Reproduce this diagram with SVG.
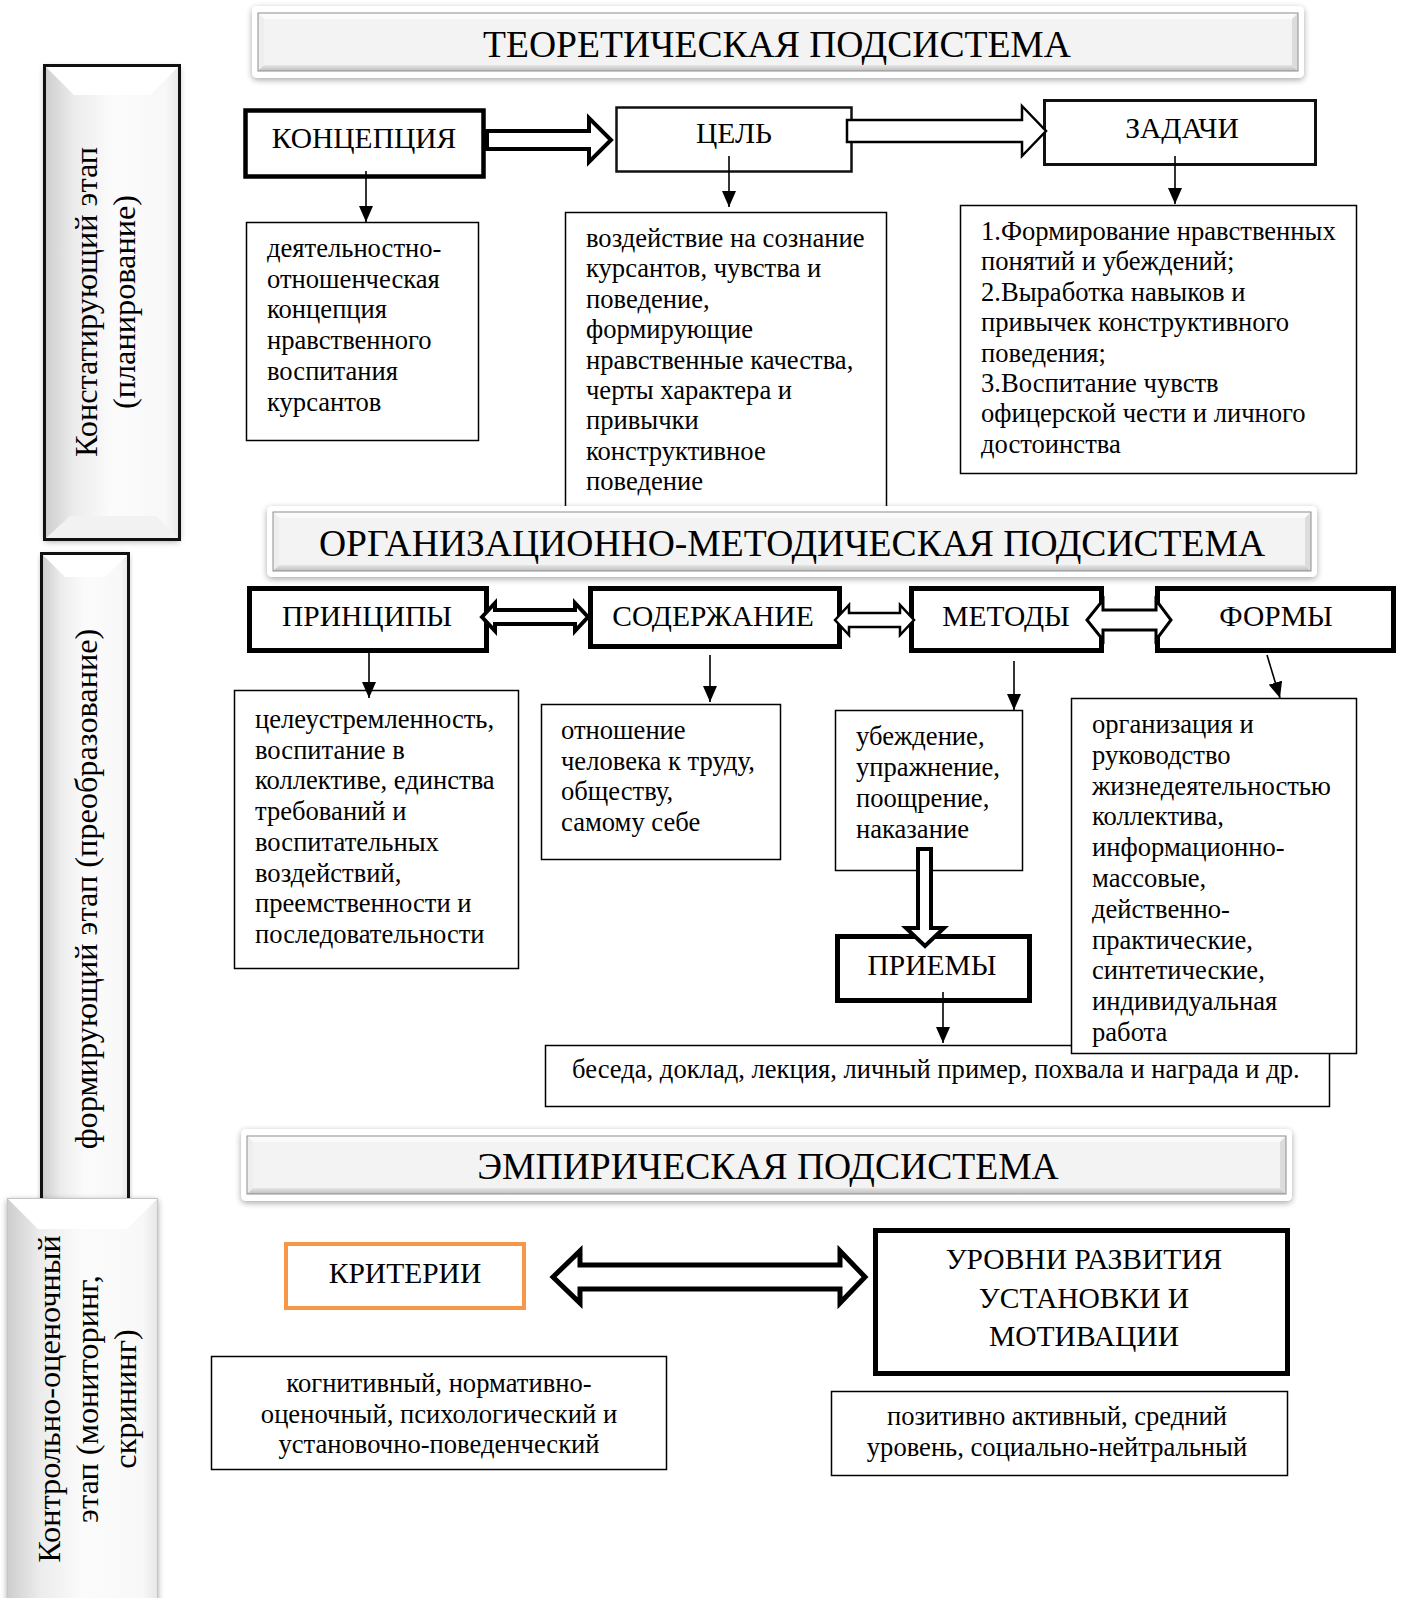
<svg xmlns="http://www.w3.org/2000/svg" width="1406" height="1598" viewBox="0 0 1406 1598">
<defs>
<style>
text{font-family:"Liberation Serif","Times New Roman",serif;fill:#000}
.t{font-size:26.6px}
.c{font-size:26.6px;text-anchor:middle}
.lbl{font-size:29.5px;text-anchor:middle}
.ttl{font-size:37.6px;text-anchor:middle}
.bt{font-size:32.3px;text-anchor:middle}
.desc{fill:#fff;stroke:#000;stroke-width:1.5}
.thk{fill:#fff;stroke:#000;stroke-width:5}
.ln{stroke:#000;stroke-width:1.6;fill:none;marker-end:url(#ah)}
.blk{fill:#fff;stroke:#000;stroke-linejoin:miter}
.o{fill:#fff}
.face{fill:#f3f3f3}
.edge{fill:none;stroke:#8e8e8e;stroke-width:1}
.bvt{fill:#fbfbfb}.bvl{fill:#eeeeee}.bvb{fill:url(#botg)}.bvr{fill:#dcdcdc}
.barr{fill:url(#barg)}
.bartop{fill:#ffffff}
.barbot{fill:#f2f2f2}
.bord{fill:none;stroke:#111;stroke-width:3}
</style>
<marker id="ah" markerUnits="userSpaceOnUse" markerWidth="16" markerHeight="14" viewBox="0 0 16 14" refX="16" refY="7" orient="auto"><path d="M0,0 L16,7 L0,14 Z" fill="#000"/></marker>
<filter id="sh" x="-5%" y="-30%" width="110%" height="160%"><feGaussianBlur in="SourceAlpha" stdDeviation="3"/><feOffset dy="2"/><feComponentTransfer><feFuncA type="linear" slope="0.35"/></feComponentTransfer><feMerge><feMergeNode/><feMergeNode in="SourceGraphic"/></feMerge></filter>
<linearGradient id="barg" x1="0" x2="1" y1="0" y2="0"><stop offset="0" stop-color="#cdcdcd"/><stop offset="0.22" stop-color="#ececec"/><stop offset="0.5" stop-color="#fbfbfb"/><stop offset="0.9" stop-color="#f8f8f8"/><stop offset="1" stop-color="#e6e6e6"/></linearGradient>
<linearGradient id="botg" x1="0" x2="0" y1="0" y2="1"><stop offset="0" stop-color="#e6e6e6"/><stop offset="1" stop-color="#bdbdbd"/></linearGradient>
</defs>
<rect width="1406" height="1598" fill="#fff"/>

<!-- stage bars -->
<g id="stage1">
<rect x="44.5" y="65.5" width="135" height="474" class="barr" filter="url(#sh)"/>
<polygon class="bartop" points="46,67 178,67 150,95 74,95"/>
<polygon class="barbot" points="46,538 70,516 156,516 178,538"/>
<rect x="44.5" y="65.5" width="135" height="474" class="bord"/>
<text class="bt" transform="translate(97,302) rotate(-90)">Констатирующий этап</text>
<text class="bt" transform="translate(135,302) rotate(-90)">(планирование)</text>
</g>
<g id="stage2">
<rect x="41.5" y="553.5" width="87" height="650" class="barr" filter="url(#sh)"/>
<polygon class="bartop" points="43,555 127,555 105,577 65,577"/>
<rect x="41.5" y="553.5" width="87" height="650" class="bord"/>
<text class="bt" transform="translate(97,889) rotate(-90)">формирующий этап (преобразование)</text>
</g>
<g id="stage3">
<rect x="7" y="1198" width="151" height="420" class="barr" filter="url(#sh)"/>
<polygon class="bartop" points="8,1199 157,1199 127,1229 38,1229"/>
<rect x="7.5" y="1198.5" width="150" height="420" fill="none" stroke="#c4c4c4" stroke-width="1"/>
<text class="bt" transform="translate(60,1399) rotate(-90)">Контрольно-оценочный</text>
<text class="bt" transform="translate(98,1399) rotate(-90)">этап (мониторинг,</text>
<text class="bt" transform="translate(136,1399) rotate(-90)">скрининг)</text>
</g>

<!-- theoretical subsystem -->
<g id="title-theory">
<rect x="252" y="6" width="1052" height="72" rx="5" class="o" filter="url(#sh)"/>
<rect x="258" y="13" width="1040" height="58" class="face"/>
<polygon class="bvt" points="258,13 1298,13 1292,19 264,19"/>
<polygon class="bvl" points="258,13 264,19 264,65 258,71"/>
<polygon class="bvb" points="258,71 264,65 1292,65 1298,71"/>
<polygon class="bvr" points="1298,13 1298,71 1292,65 1292,19"/>
<rect x="258" y="13" width="1040" height="58" class="edge"/>
<text class="ttl" x="777" y="57">ТЕОРЕТИЧЕСКАЯ ПОДСИСТЕМА</text>
</g>
<g id="concept">
<rect x="245.5" y="110.5" width="238" height="66" fill="#fff" stroke="#000" stroke-width="4.5"/>
<text class="lbl" x="364" y="148">КОНЦЕПЦИЯ</text>
</g>
<g id="goal">
<rect x="616.5" y="107.5" width="235" height="64" fill="#fff" stroke="#111" stroke-width="2.5"/>
<text class="lbl" x="734" y="143">ЦЕЛЬ</text>
</g>
<g id="tasks">
<rect x="1044.5" y="100.5" width="271" height="64" fill="#fff" stroke="#111" stroke-width="3"/>
<text class="lbl" x="1182" y="138">ЗАДАЧИ</text>
</g>
<g id="concept-desc">
<rect x="246.5" y="222.5" width="232" height="218" class="desc"/>
<text class="t" x="267" y="257"><tspan x="267" dy="0">деятельностно-</tspan><tspan x="267" dy="30.7">отношенческая</tspan><tspan x="267" dy="30.7">концепция</tspan><tspan x="267" dy="30.7">нравственного</tspan><tspan x="267" dy="30.7">воспитания</tspan><tspan x="267" dy="30.7">курсантов</tspan></text>
</g>
<g id="goal-desc">
<rect x="565.5" y="212.5" width="321" height="330" class="desc"/>
<text class="t" x="586" y="247"><tspan x="586" dy="0">воздействие на сознание</tspan><tspan x="586" dy="30.4">курсантов, чувства и</tspan><tspan x="586" dy="30.4">поведение,</tspan><tspan x="586" dy="30.4">формирующие</tspan><tspan x="586" dy="30.4">нравственные качества,</tspan><tspan x="586" dy="30.4">черты характера и</tspan><tspan x="586" dy="30.4">привычки</tspan><tspan x="586" dy="30.4">конструктивное</tspan><tspan x="586" dy="30.4">поведение</tspan></text>
</g>
<g id="tasks-desc">
<rect x="960.5" y="205.5" width="396" height="268" class="desc"/>
<text class="t" x="981" y="240"><tspan x="981" dy="0">1.Формирование нравственных</tspan><tspan x="981" dy="30.4">понятий и убеждений;</tspan><tspan x="981" dy="30.4">2.Выработка навыков и</tspan><tspan x="981" dy="30.4">привычек конструктивного</tspan><tspan x="981" dy="30.4">поведения;</tspan><tspan x="981" dy="30.4">3.Воспитание чувств</tspan><tspan x="981" dy="30.4">офицерской чести и личного</tspan><tspan x="981" dy="30.4">достоинства</tspan></text>
</g>

<!-- organizational-methodical subsystem -->
<g id="title-org">
<rect x="267" y="506" width="1050" height="71" rx="5" class="o" filter="url(#sh)"/>
<rect x="273" y="512" width="1038" height="59" class="face"/>
<polygon class="bvt" points="273,512 1311,512 1305,518 279,518"/>
<polygon class="bvl" points="273,512 279,518 279,565 273,571"/>
<polygon class="bvb" points="273,571 279,565 1305,565 1311,571"/>
<polygon class="bvr" points="1311,512 1311,571 1305,565 1305,518"/>
<rect x="273" y="512" width="1038" height="59" class="edge"/>
<text class="ttl" x="792" y="556">ОРГАНИЗАЦИОННО-МЕТОДИЧЕСКАЯ ПОДСИСТЕМА</text>
</g>
<g id="principles">
<rect x="249.5" y="588.5" width="237" height="62" class="thk"/>
<text class="lbl" x="367" y="626">ПРИНЦИПЫ</text>
</g>
<g id="content">
<rect x="590.5" y="588.5" width="249" height="58" class="thk"/>
<text class="lbl" x="713" y="626">СОДЕРЖАНИЕ</text>
</g>
<g id="methods">
<rect x="911.5" y="588.5" width="190" height="62" class="thk"/>
<text class="lbl" x="1006" y="626">МЕТОДЫ</text>
</g>
<g id="forms">
<rect x="1157.5" y="588.5" width="236" height="62" class="thk"/>
<text class="lbl" x="1276" y="626">ФОРМЫ</text>
</g>
<g id="principles-desc">
<rect x="234.5" y="690.5" width="284" height="278" class="desc"/>
<text class="t" x="255" y="728"><tspan x="255" dy="0">целеустремленность,</tspan><tspan x="255" dy="30.7">воспитание в</tspan><tspan x="255" dy="30.7">коллективе, единства</tspan><tspan x="255" dy="30.7">требований и</tspan><tspan x="255" dy="30.7">воспитательных</tspan><tspan x="255" dy="30.7">воздействий,</tspan><tspan x="255" dy="30.7">преемственности и</tspan><tspan x="255" dy="30.7">последовательности</tspan></text>
</g>
<g id="content-desc">
<rect x="541.5" y="704.5" width="239" height="155" class="desc"/>
<text class="t" x="561" y="739"><tspan x="561" dy="0">отношение</tspan><tspan x="561" dy="30.7">человека к труду,</tspan><tspan x="561" dy="30.7">обществу,</tspan><tspan x="561" dy="30.7">самому себе</tspan></text>
</g>
<g id="methods-desc">
<rect x="835.5" y="710.5" width="187" height="160" class="desc"/>
<text class="t" x="856" y="745"><tspan x="856" dy="0">убеждение,</tspan><tspan x="856" dy="31">упражнение,</tspan><tspan x="856" dy="31">поощрение,</tspan><tspan x="856" dy="31">наказание</tspan></text>
</g>
<g id="techniques">
<rect x="837.5" y="936.5" width="192" height="64" class="thk"/>
<text class="lbl" x="932" y="975">ПРИЕМЫ</text>
</g>
<g id="techniques-desc">
<rect x="545.5" y="1045.5" width="784" height="61" class="desc"/>
<text class="t" x="572" y="1078">беседа, доклад, лекция, личный пример, похвала и награда и др.</text>
</g>
<g id="forms-desc">
<rect x="1071.5" y="698.5" width="285" height="355" class="desc"/>
<text class="t" x="1092" y="733"><tspan x="1092" dy="0">организация и</tspan><tspan x="1092" dy="30.8">руководство</tspan><tspan x="1092" dy="30.8">жизнедеятельностью</tspan><tspan x="1092" dy="30.8">коллектива,</tspan><tspan x="1092" dy="30.8">информационно-</tspan><tspan x="1092" dy="30.8">массовые,</tspan><tspan x="1092" dy="30.8">действенно-</tspan><tspan x="1092" dy="30.8">практические,</tspan><tspan x="1092" dy="30.8">синтетические,</tspan><tspan x="1092" dy="30.8">индивидуальная</tspan><tspan x="1092" dy="30.8">работа</tspan></text>
</g>

<!-- empirical subsystem -->
<g id="title-emp">
<rect x="241" y="1129" width="1051" height="72" rx="5" class="o" filter="url(#sh)"/>
<rect x="247" y="1136" width="1039" height="58" class="face"/>
<polygon class="bvt" points="247,1136 1286,1136 1280,1142 253,1142"/>
<polygon class="bvl" points="247,1136 253,1142 253,1188 247,1194"/>
<polygon class="bvb" points="247,1194 253,1188 1280,1188 1286,1194"/>
<polygon class="bvr" points="1286,1136 1286,1194 1280,1188 1280,1142"/>
<rect x="247" y="1136" width="1039" height="58" class="edge"/>
<text class="ttl" x="768" y="1179">ЭМПИРИЧЕСКАЯ ПОДСИСТЕМА</text>
</g>
<g id="criteria">
<rect x="286" y="1244" width="238" height="64" fill="#fff" stroke="#F79646" stroke-width="4"/>
<text class="lbl" x="405" y="1283">КРИТЕРИИ</text>
</g>
<g id="levels">
<rect x="875.5" y="1230.5" width="412" height="143" class="thk"/>
<text class="lbl" x="1084" y="1269">УРОВНИ РАЗВИТИЯ</text>
<text class="lbl" x="1084" y="1307.5">УСТАНОВКИ И</text>
<text class="lbl" x="1084" y="1346">МОТИВАЦИИ</text>
</g>
<g id="criteria-desc">
<rect x="211.5" y="1356.5" width="455" height="113" class="desc"/>
<text class="c" x="439" y="1392">когнитивный, нормативно-</text>
<text class="c" x="439" y="1422.5">оценочный, психологический и</text>
<text class="c" x="439" y="1453">установочно-поведенческий</text>
</g>
<g id="levels-desc">
<rect x="831.5" y="1391.5" width="456" height="84" class="desc"/>
<text class="c" x="1057" y="1425">позитивно активный, средний</text>
<text class="c" x="1057" y="1456">уровень, социально-нейтральный</text>
</g>

<!-- connectors -->
<g id="connectors">
<path class="blk" stroke-width="4" d="M487,131 H589 V118 L611,140 L589,162 V149 H487 Z"/>
<path class="blk" stroke-width="2.5" d="M847,120 H1022 V106 L1046,131 L1022,156 V142 H847 Z"/>
<path class="blk" stroke-width="4" d="M482,617 L495,603 V610 H575 V603 L588,617 L575,631 V624 H495 V631 Z"/>
<path class="blk" stroke-width="2.5" d="M835,620 L849,605 V613 H900 V605 L914,620 L900,635 V627 H849 V635 Z"/>
<path class="blk" stroke-width="3" d="M1087,620 L1103,600 V610 H1156 V600 L1171,620 L1156,640 V630 H1103 V640 Z"/>
<path class="blk" stroke-width="4" d="M918,849 H931 V928 H944 L925,946 L906,928 H918 Z"/>
<path class="blk" stroke-width="5" d="M553,1277 L580,1251 V1265 H840 V1251 L865,1277 L840,1303 V1289 H580 V1303 Z"/>
<line class="ln" x1="366" y1="171" x2="366" y2="222"/>
<line class="ln" x1="729" y1="156" x2="729" y2="207"/>
<line class="ln" x1="1175" y1="156" x2="1175" y2="204"/>
<line class="ln" x1="369" y1="650" x2="369" y2="698"/>
<line class="ln" x1="710" y1="655" x2="710" y2="702"/>
<line class="ln" x1="1014" y1="661" x2="1014" y2="710"/>
<line class="ln" x1="1267" y1="655" x2="1280" y2="698"/>
<line class="ln" x1="943" y1="992" x2="943" y2="1043"/>
</g>
</svg>
